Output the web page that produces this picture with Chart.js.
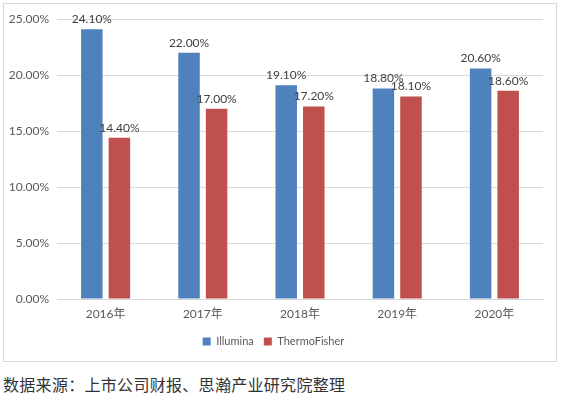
<!DOCTYPE html>
<html>
<head>
<meta charset="utf-8">
<script src="https://cdn.jsdelivr.net/npm/chart.js@4/dist/chart.umd.min.js"></script>
<style>
  body { margin: 0; background: #fff; width: 564px; height: 399px; position: relative; overflow: hidden; }
  #box { position: absolute; left: 3px; top: 3px; width: 552px; height: 357px; border: 1px solid #d9d9d9; }
  #caption { position: absolute; left: 3px; top: 372px; font-family: 'Noto Sans CJK SC', sans-serif; font-size: 16px; color: #333; letter-spacing: 0.3px; }
</style>
</head>
<body>
<div id="box"><canvas id="chart" width="552" height="357"></canvas></div>
<div id="caption">数据来源：上市公司财报、思瀚产业研究院整理</div>
<script>
const years = ['2016年', '2017年', '2018年', '2019年', '2020年']
const illumina = [24.1, 22.0, 19.1, 18.8, 20.6]
const thermo = [14.4, 17.0, 17.2, 18.1, 18.6]

const fontFamily = "Lato, 'Noto Sans CJK SC', sans-serif"

// draws the value above each bar
const barLabels = {
    id: 'barLabels',
    afterDatasetsDraw(chart) {
        const ctx = chart.ctx
        ctx.save()
        ctx.font = '12px ' + fontFamily
        ctx.fillStyle = '#404040'
        ctx.textAlign = 'center'
        ctx.textBaseline = 'bottom'
        chart.data.datasets.forEach((ds, i) => {
            chart.getDatasetMeta(i).data.forEach((bar, j) => {
                ctx.fillText(ds.data[j].toFixed(2) + '%', bar.x, bar.y - 4)
            })
        })
        ctx.restore()
    }
}

const ctx = document.getElementById('chart').getContext('2d')
new Chart(ctx, {
    type: 'bar',
    data: {
        labels: years,
        datasets: [
            { label: 'Illumina', data: illumina, backgroundColor: '#4f81bd' },
            { label: 'ThermoFisher', data: thermo, backgroundColor: '#c0504d' }
        ]
    },
    options: {
        responsive: false,
        animation: false,
        datasets: { bar: { categoryPercentage: 0.567, barPercentage: 0.78 } },
        layout: { padding: { top: 12, right: 13, bottom: 4, left: 0 } },
        scales: {
            x: {
                grid: { display: false },
                border: { color: '#d9d9d9' },
                ticks: { color: '#595959', font: { family: fontFamily, size: 12 }, padding: 0 },
                afterFit: s => { s.height = 27 }
            },
            y: {
                min: 0,
                max: 25,
                ticks: { stepSize: 5, color: '#595959', font: { family: fontFamily, size: 12 }, padding: 8,
                    callback: v => v.toFixed(2) + '%' },
                grid: { color: '#d9d9d9', drawTicks: false },
                border: { display: false },
                afterFit: s => { s.width = 53 }
            }
        },
        plugins: {
            legend: {
                position: 'bottom',
                labels: { boxWidth: 8, boxHeight: 8, padding: 10, color: '#595959', font: { family: fontFamily, size: 11 } }
            },
            tooltip: { enabled: false }
        }
    },
    plugins: [barLabels]
})
</script>
</body>
</html>
